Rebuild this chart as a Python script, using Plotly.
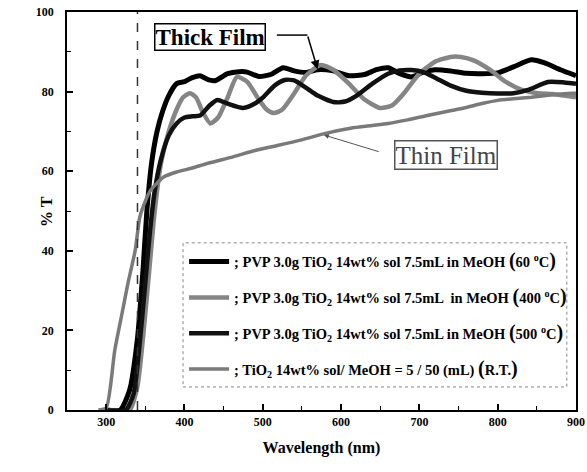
import plotly.graph_objects as go

# ---------------- data ----------------
wl_60 = [300, 318, 330, 340, 347, 352, 358, 365, 372, 380, 390, 400, 410, 420, 430, 440, 455, 470, 480, 495,
         510, 526, 540, 555, 570, 590, 610, 630, 645, 660, 675, 690, 705, 720, 740, 760, 780, 800, 820, 843,
         860, 880, 900]
t_60 = [0, 0, 5, 18, 35, 50, 62, 70, 75, 79, 82, 82.5, 83.5, 84, 83, 82.8, 84.5, 85, 84.9, 83.8,
        84.3, 86, 85.2, 84.8, 85.5, 85.2, 84, 84.3, 85.5, 86, 84.5, 83.7, 84.9, 85.5, 85.2, 84.6, 84.5, 84.7, 86.2, 88,
        87.2, 85.5, 84]

wl_400 = [300, 330, 340, 347, 355, 362, 370, 380, 390, 398, 407, 415, 423, 433, 443, 455, 467, 480, 495, 505,
          514, 525, 540, 555, 574, 590, 610, 630, 650, 665, 680, 700, 720, 740, 753, 770, 790, 810, 830, 851,
          870, 885, 900]
t_400 = [0, 0, 6, 18, 35, 50, 62, 70, 75.5, 78.5, 79.6, 78.5, 75, 72, 73.5, 78.5, 83.7, 82.5, 78, 75.5,
         74.6, 75.5, 79.5, 84, 86.7, 85.5, 82, 78, 75.9, 76.5, 79.5, 84.5, 87.5, 88.7, 88.7, 87.8, 85.5, 82.5, 80.5, 79.6,
         79.4, 79, 78.6]

wl_500 = [300, 325, 335, 342, 350, 356, 362, 370, 380, 390, 400, 410, 420, 432, 442, 455, 475, 490, 500, 515,
          528, 540, 555, 570, 590, 605, 620, 640, 660, 675, 690, 705, 720, 740, 760, 780, 800, 820, 840, 864,
          885, 900]
t_500 = [0, 0, 4, 15, 32, 45, 55, 63, 69, 72, 73.5, 73.8, 74, 76.5, 77.9, 77, 75.9, 77, 78.5, 81.5,
         82.9, 82.8, 81, 79, 77.4, 77.5, 79, 82, 84.5, 85.3, 85.4, 84.9, 83.5, 81.5, 80.2, 79.7, 79.5, 79.6, 80.5, 82.4,
         82.3, 82]

wl_rt = [290, 300, 311, 320, 328, 337, 343, 350, 356, 365, 373, 390, 410, 430, 462, 490, 520, 548, 580, 612,
         640, 660, 685, 710, 735, 757, 780, 800, 820, 843, 870, 894, 900]
t_rt = [0, 0.5, 15, 24, 32, 40, 48.5, 52.5, 55, 57, 58.5, 59.8, 60.8, 62, 63.6, 65.2, 66.5, 67.8, 69.5, 70.8,
        71.5, 72, 72.9, 74, 75, 75.9, 77, 77.8, 78.2, 78.6, 79.2, 79.6, 79.6]

cutoff_nm = 340

P = "<span style='font-size:20px'>%s</span>"
names = [
    "; PVP 3.0g TiO<sub>2</sub> 14wt% sol 7.5mL in MeOH " + P % "(" + "60 <sup>o</sup>C" + P % ")",
    "; PVP 3.0g TiO<sub>2</sub> 14wt% sol 7.5mL  in MeOH " + P % "(" + "400 <sup>o</sup>C" + P % ")",
    "; PVP 3.0g TiO<sub>2</sub> 14wt% sol 7.5mL in MeOH " + P % "(" + "500 <sup>o</sup>C" + P % ")",
    "; TiO<sub>2</sub> 14wt% sol/ MeOH = 5 / 50 (mL) " + P % "(" + "R.T." + P % ")",
]

FONT = "Liberation Serif"

fig = go.Figure()
series = [
    (wl_60, t_60, "#000000", 5),
    (wl_400, t_400, "#858585", 4.5),
    (wl_500, t_500, "#111111", 4.5),
    (wl_rt, t_rt, "#7a7a7a", 3.5),
]
for i, (x, y, c, w) in enumerate(series):
    fig.add_trace(go.Scatter(x=x, y=y, mode="lines", name="<b>" + names[i] + "</b>", legendgroup=f"g{i}",
                             line=dict(color=c, width=w, shape="spline", smoothing=0.6)))

fig.add_vline(x=cutoff_nm, line=dict(color="#333333", width=1.5, dash="dash"))

# legend frame (dotted)
fig.add_shape(type="rect", xref="paper", yref="paper", x0=0.228, x1=0.982, y0=0.058, y1=0.42,
              line=dict(color="#888888", width=1, dash="dot"), fillcolor="white", layer="below")

# Thick Film annotation
fig.add_annotation(x=433, y=93.7, xref="x", yref="y", text="<b>Thick Film</b>", showarrow=False,
                   font=dict(family=FONT, size=23, color="black"), bordercolor="black", borderwidth=1.5,
                   borderpad=0, bgcolor="white")
fig.add_shape(type="line", x0=518, y0=94.2, x1=557, y1=94.2, line=dict(color="black", width=1.5))
fig.add_annotation(x=570, y=85.6, ax=557, ay=94.2, axref="x", ayref="y", xref="x", yref="y", text="",
                   showarrow=True, arrowhead=2, arrowsize=1.2, arrowwidth=1.5, arrowcolor="black")

# Thin Film annotation
fig.add_annotation(x=734, y=64.1, xref="x", yref="y", text="Thin Film", showarrow=False,
                   font=dict(family=FONT, size=25, color="#444444"), bordercolor="#555555", borderwidth=1.5,
                   borderpad=0, bgcolor="white")
fig.add_annotation(x=578, y=69.1, ax=650, ay=64.8, axref="x", ayref="y", xref="x", yref="y", text="",
                   showarrow=True, arrowhead=2, arrowsize=1, arrowwidth=1, arrowcolor="#555555")

# y axis title as free text
fig.add_annotation(x=-0.062, y=0.5, xref="paper", yref="paper", text="<b>% T</b>", textangle=-90,
                   showarrow=False, font=dict(family=FONT, size=16, color="black"))

axis_common = dict(showline=True, linecolor="black", linewidth=1.5, mirror=True, ticks="inside",
                   ticklen=6, tickwidth=1.5, tickcolor="black", showgrid=False, zeroline=False,
                   automargin=False, tickfont=dict(family=FONT, size=12, color="black"))

fig.update_xaxes(range=[250, 900], tick0=300, dtick=100,
                 minor=dict(ticks="inside", ticklen=4, tickwidth=1.2, tickcolor="black", dtick=50, tick0=250),
                 title=dict(text="<b>Wavelength (nm)</b>", font=dict(family=FONT, size=16, color="black"),
                            standoff=14),
                 tickprefix="<b>", ticksuffix="</b>", **axis_common)
fig.update_yaxes(range=[0, 100], tick0=0, dtick=20,
                 minor=dict(ticks="inside", ticklen=4, tickwidth=1.2, tickcolor="black", dtick=10),
                 tickprefix="<b>", ticksuffix="</b>\u00a0\u00a0\u00a0", **axis_common)

fig.update_layout(
    width=587, height=472,
    margin=dict(l=67, r=11, t=12, b=62),
    paper_bgcolor="white", plot_bgcolor="white",
    legend=dict(x=0.23, y=0.413, xanchor="left", yanchor="top", bgcolor="rgba(0,0,0,0)",
                borderwidth=0, tracegroupgap=14, itemwidth=40,
                font=dict(family=FONT, size=14.5, color="black"), traceorder="grouped"),
    showlegend=True,
)

fig.write_html("out.html")
